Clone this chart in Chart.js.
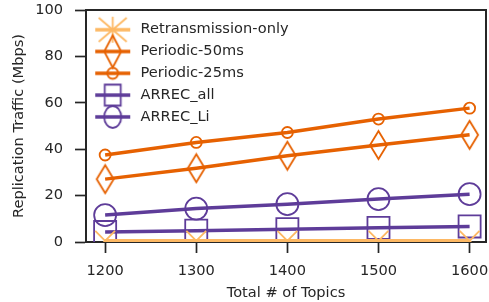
<!DOCTYPE html>
<html>
<head>
<meta charset="utf-8">
<script src="https://cdn.jsdelivr.net/npm/chart.js@4.4.0/dist/chart.umd.min.js"></script>
<style>
  html, body { margin: 0; padding: 0; background: #fff; }
  #wrap { width: 489px; height: 302px; }
</style>
</head>
<body>
<div id="wrap"><canvas id="c"></canvas></div>
<script>
const topics = [1200, 1300, 1400, 1500, 1600];
const retransOnly = [0.5, 0.5, 0.5, 0.5, 0.5];
const periodic50 = [27.1, 31.8, 37.2, 41.8, 46.2];
const periodic25 = [37.5, 42.9, 47.2, 53.0, 57.7];
const arrecAll = [4.3, 4.9, 5.5, 6.1, 6.7];
const arrecLi = [11.6, 14.4, 16.3, 18.5, 20.6];
const seriesNames = ["Retransmission-only", "Periodic-50ms", "Periodic-25ms", "ARREC_all", "ARREC_Li"];
const xTicks = [1200, 1300, 1400, 1500, 1600];
const yTicks = [0, 20, 40, 60, 80, 100];

const LIGHT = "#fdb863";
const ORANGE = "#e66101";
const PURPLE = "#5e3c99";
const INK = "#262626";
const FONT = "DejaVu Sans";
const FSIZE = 14.6;

function makeCanvas(w, h) {
  const c = document.createElement("canvas");
  c.width = w;
  c.height = h;
  return c;
}

// thin diamond marker (matplotlib "d")
function drawDiamond(g, cx, cy, w, h, color) {
  g.strokeStyle = color;
  g.lineWidth = 1.8;
  g.beginPath();
  g.moveTo(cx, cy - h / 2);
  g.lineTo(cx + w / 2, cy);
  g.lineTo(cx, cy + h / 2);
  g.lineTo(cx - w / 2, cy);
  g.closePath();
  g.stroke();
}

function diamondImage(w, h, color) {
  const c = makeCanvas(w + 4, h + 4);
  drawDiamond(c.getContext("2d"), c.width / 2, c.height / 2, w, h, color);
  return c;
}

// legend icons: line with marker on top
function legendIcon(color, marker) {
  const c = makeCanvas(40, 38);
  const g = c.getContext("2d");
  const cx = 19.5, cy = 19;
  g.strokeStyle = color;
  g.lineWidth = 3.5;
  g.beginPath();
  g.moveTo(2, cy);
  g.lineTo(37, cy);
  g.stroke();
  g.lineWidth = 1.8;
  g.beginPath();
  if (marker === "star") {
    g.moveTo(cx - 14, cy - 12); g.lineTo(cx + 14, cy + 12);
    g.moveTo(cx + 14, cy - 12); g.lineTo(cx - 14, cy + 12);
    g.moveTo(cx, cy - 13); g.lineTo(cx, cy + 13);
    g.stroke();
  } else if (marker === "diamond") {
    drawDiamond(g, cx, cy, 17, 32, color);
  } else if (marker === "smallCircle") {
    g.arc(cx, cy, 5.5, 0, Math.PI * 2);
    g.stroke();
  } else if (marker === "square") {
    g.rect(cx - 8, cy - 10.5, 16, 21);
    g.stroke();
  } else if (marker === "circle") {
    g.ellipse(cx, cy, 8.5, 11, 0, 0, Math.PI * 2);
    g.stroke();
  }
  return c;
}

const legendIcons = [
  legendIcon(LIGHT, "star"),
  legendIcon(ORANGE, "diamond"),
  legendIcon(ORANGE, "smallCircle"),
  legendIcon(PURPLE, "square"),
  legendIcon(PURPLE, "circle"),
];

function series(i, values, color, style, radius) {
  return {
    label: seriesNames[i],
    data: topics.map((t, k) => ({ x: t, y: values[k] })),
    borderColor: color,
    borderWidth: 3.5,
    pointStyle: style,
    pointRadius: radius,
    pointHoverRadius: radius,
    pointBorderColor: color,
    pointBackgroundColor: "rgba(0,0,0,0)",
    pointBorderWidth: 1.8,
    tension: 0,
    fill: false,
  };
}

// fixed axis sizes, no automatic label overflow padding
function fixSize(prop, size) {
  return (scale) => {
    scale[prop] = size;
    scale.paddingTop = 0;
    scale.paddingBottom = 0;
    scale.paddingLeft = 0;
    scale.paddingRight = 0;
  };
}

const ctx = document.getElementById("c").getContext("2d");
new Chart(ctx, {
  type: "line",
  data: {
    datasets: [
      series(0, retransOnly, LIGHT, "crossRot", 14),
      series(1, periodic50, ORANGE, diamondImage(17, 28, ORANGE), 10),
      series(2, periodic25, ORANGE, "circle", 5.5),
      series(3, arrecAll, PURPLE, "rect", 15.6),
      series(4, arrecLi, PURPLE, "circle", 11),
    ],
  },
  options: {
    responsive: true,
    maintainAspectRatio: false,
    animation: false,
    layout: { padding: 0, autoPadding: false },
    plugins: {
      tooltip: { enabled: false },
      legend: {
        position: "chartArea",
        align: "start",
        title: { display: true, text: " ", font: { size: 1 }, padding: { top: 7, bottom: 7 } },
        labels: {
          usePointStyle: true,
          pointStyleWidth: 40,
          padding: 7.2,
          color: INK,
          font: { family: FONT, size: FSIZE },
          generateLabels: function (chart) {
            return chart.data.datasets.map((ds, i) => ({
              text: ds.label,
              pointStyle: legendIcons[i],
              fontColor: INK,
              hidden: false,
              datasetIndex: i,
              lineWidth: 0,
            }));
          },
        },
      },
    },
    scales: {
      x: {
        type: "linear",
        position: "bottom",
        min: 1179,
        max: 1618,
        afterBuildTicks: (scale) => { scale.ticks = xTicks.map((v) => ({ value: v })); },
        afterFit: fixSize("height", 60),
        grid: { drawOnChartArea: false, drawTicks: true, tickLength: 11, tickWidth: 1.7, tickColor: INK },
        border: { display: true, color: INK, width: 2 },
        ticks: { color: INK, padding: 9, font: { family: FONT, size: FSIZE }, callback: (v) => String(v) },
        title: { display: true, text: "Total # of Topics", color: INK, padding: { top: 0, bottom: 0 }, font: { family: FONT, size: FSIZE } },
      },
      y: {
        type: "linear",
        position: "left",
        min: 0,
        max: 100,
        afterBuildTicks: (scale) => { scale.ticks = yTicks.map((v) => ({ value: v })); },
        afterFit: fixSize("width", 86),
        grid: { drawOnChartArea: false, drawTicks: true, tickLength: 11, tickWidth: 1.7, tickColor: INK },
        border: { display: true, color: INK, width: 2 },
        ticks: { color: INK, padding: 12, font: { family: FONT, size: FSIZE } },
        title: { display: true, text: "Replication Traffic (Mbps)", color: INK, padding: { top: 10, bottom: 0 }, font: { family: FONT, size: FSIZE } },
      },
      x2: {
        type: "linear",
        position: "top",
        afterFit: fixSize("height", 10),
        grid: { display: false },
        ticks: { display: false },
        border: { display: true, color: INK, width: 2 },
      },
      y2: {
        type: "linear",
        position: "right",
        afterFit: fixSize("width", 3),
        grid: { display: false },
        ticks: { display: false },
        border: { display: true, color: INK, width: 2 },
      },
    },
  },
});
</script>
</body>
</html>
